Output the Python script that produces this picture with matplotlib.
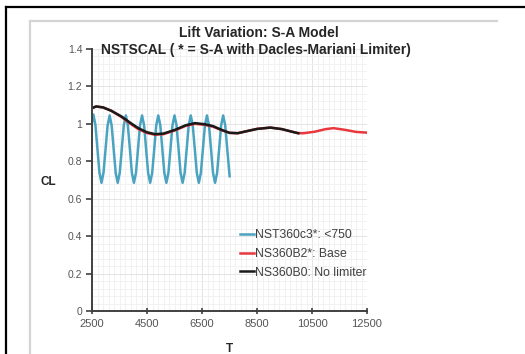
import numpy as np
import matplotlib.pyplot as plt
from matplotlib.lines import Line2D

plt.rcParams['font.family'] = ['Liberation Sans', 'DejaVu Sans']

# NST360c3*: <750  (oscillating run)
blue_t = [2500, 2550, 2624, 2698, 2771, 2845, 2919, 2993, 3066,
          3140, 3214, 3288, 3361, 3435, 3509, 3583, 3656,
          3730, 3804, 3878, 3951, 4025, 4099, 4173, 4246,
          4320, 4394, 4468, 4541, 4615, 4689, 4763, 4836,
          4910, 4984, 5058, 5131, 5205, 5279, 5353, 5426,
          5500, 5574, 5648, 5721, 5795, 5869, 5943, 6016,
          6090, 6164, 6238, 6311, 6385, 6459, 6533, 6606,
          6680, 6754, 6828, 6901, 6975, 7049, 7123, 7196,
          7270, 7344, 7418, 7505]
blue_cl = [1.01, 1.05, 0.995, 0.865, 0.74, 0.685, 0.74, 0.865, 0.99,
           1.045, 0.992, 0.865, 0.738, 0.685, 0.738, 0.865, 0.992,
           1.045, 0.992, 0.865, 0.738, 0.685, 0.738, 0.865, 0.992,
           1.045, 0.992, 0.865, 0.738, 0.685, 0.738, 0.865, 0.992,
           1.045, 0.992, 0.865, 0.738, 0.685, 0.738, 0.865, 0.992,
           1.045, 0.992, 0.865, 0.738, 0.685, 0.738, 0.865, 0.992,
           1.045, 0.992, 0.865, 0.738, 0.685, 0.738, 0.865, 0.992,
           1.045, 0.992, 0.865, 0.738, 0.685, 0.738, 0.865, 0.992,
           1.045, 0.992, 0.865, 0.72]

# NS360B2*: Base
red_t = [2500, 2650, 2900, 3200, 3577, 3900, 4185, 4500, 4790, 5100, 5517,
         5900, 6245, 6600, 6900, 7213, 7500, 7800, 8100, 8500, 8983, 9400,
         9800, 10000, 10195, 10600, 11000, 11285, 11700, 12100, 12500]
red_cl = [1.084, 1.093, 1.088, 1.07, 1.036, 1.0, 0.972, 0.951, 0.942, 0.945, 0.965,
          0.989, 1.0, 0.995, 0.985, 0.966, 0.952, 0.95, 0.96, 0.973, 0.98, 0.972,
          0.957, 0.95, 0.95, 0.958, 0.972, 0.977, 0.968, 0.957, 0.953]

# NS360B0: No limiter
black_t = [2500, 2650, 2900, 3200, 3577, 3900, 4185, 4500, 4790, 5100, 5517,
           5900, 6245, 6600, 6900, 7213, 7500, 7800, 8100, 8500, 8983, 9400,
           9800, 10000]
black_cl = [1.084, 1.093, 1.088, 1.07, 1.039, 1.005, 0.977, 0.955, 0.945, 0.948, 0.968,
            0.992, 1.004, 0.998, 0.988, 0.968, 0.952, 0.95, 0.96, 0.973, 0.98, 0.972,
            0.957, 0.95]

x_ticks = [2500, 4500, 6500, 8500, 10500, 12500]
y_ticks = [0, 0.2, 0.4, 0.6, 0.8, 1, 1.2, 1.4]
y_labels = ['0', '0.2', '0.4', '0.6', '0.8', '1', '1.2', '1.4']

fig = plt.figure(figsize=(5.25, 3.54), dpi=100)

# outer frame + gray panel edges
fig.add_artist(Line2D([6/525, 6/525], [0, 1 - 7/354], color='black', lw=1.6))
fig.add_artist(Line2D([6/525, 1], [1 - 7/354, 1 - 7/354], color='black', lw=1.6))
fig.add_artist(Line2D([30/525, 30/525], [0, 1 - 21/354], color='#d4d4d4', lw=1.6))
fig.add_artist(Line2D([30/525, 497/525], [1 - 21/354, 1 - 21/354], color='#d4d4d4', lw=1.6))

ax = fig.add_axes([92/525, 1 - 311/354, 275/525, 262/354])

ax.plot(blue_t, blue_cl, color='#4aa3c0', lw=1.8, label='NST360c3*: <750')
ax.plot(red_t, red_cl, color='#e8383d', lw=1.8, label='NS360B2*: Base')
ax.plot(black_t, black_cl, color='#1a1a1a', lw=1.8, label='NS360B0: No limiter')

ax.set_xlim(2500, 12500)
ax.set_ylim(0, 1.4)
ax.set_xticks(x_ticks)
ax.set_yticks(y_ticks)
ax.set_yticklabels(y_labels)
ax.set_xticks(np.arange(2500, 12501, 200), minor=True)
ax.set_yticks(np.arange(0, 1.401, 0.04), minor=True)
ax.grid(which='minor', color='#f0f0f0', lw=0.6)
ax.grid(which='major', color='#e4e4e4', lw=0.7)
ax.set_axisbelow(True)

for s in ['top', 'right']:
    ax.spines[s].set_visible(False)
for s in ['left', 'bottom']:
    ax.spines[s].set_color('#404040')
    ax.spines[s].set_linewidth(1.4)
ax.tick_params(which='minor', length=0)
ax.tick_params(axis='y', which='major', length=4, width=1.2, color='#404040',
               labelsize=7.5, labelcolor='#555555', pad=3)
ax.tick_params(axis='x', which='major', length=4, width=1.2, color='#404040',
               labelsize=8, labelcolor='#555555', pad=4, direction='inout')

fig.text(259/525, 1 - 33/354, 'Lift Variation: S-A Model', ha='center', va='center',
         fontsize=10, fontweight='bold', color='#262626')
fig.text(256/525, 1 - 50/354, 'NSTSCAL ( * = S-A with Dacles-Mariani Limiter)',
         ha='center', va='center', fontsize=10, fontweight='bold', color='#262626')
fig.text(48/525, 1 - 182/354, 'CL', ha='center', va='center', fontsize=8.5,
         fontweight='bold', color='#262626')
fig.text(229/525, 1 - 349/354, 'T', ha='center', va='center', fontsize=8.5,
         fontweight='bold', color='#262626')

ax.legend(loc='upper left', bbox_to_anchor=(234/525, 1 - 223/354),
          bbox_transform=fig.transFigure, frameon=False, fontsize=8.8,
          handlelength=1.1, handletextpad=0.1, labelspacing=0.55, borderpad=0,
          labelcolor='#404040')

fig.savefig('out.png', dpi=100)
